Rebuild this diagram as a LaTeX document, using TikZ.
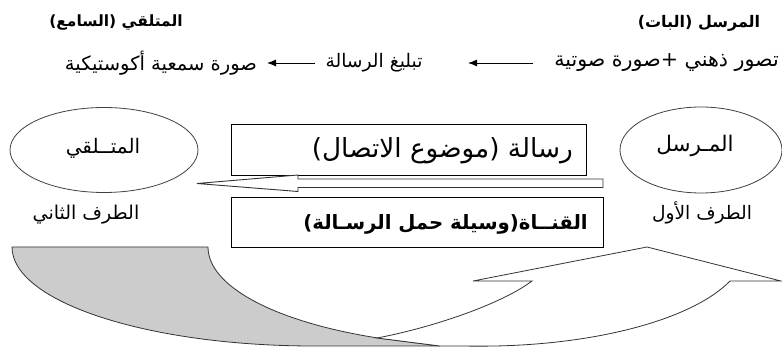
\documentclass[tikz,border=0pt]{standalone}
\usepackage{fontspec}
\usetikzlibrary{arrows.meta,shapes.geometric}
\TeXXeTstate=1
\newfontfamily\arfont[Script=Arabic]{DejaVu Sans}
\newcommand\fsz[1]{\fontsize{#1}{#1}\selectfont}
\begin{document}
\begin{tikzpicture}[x=1pt,y=-1pt,
  lbl/.style={inner sep=0pt, font=\arfont\fsz{19}},
  hd/.style={inner sep=0pt, font=\arfont\bfseries\fsz{15.5}},
  ell/.style={draw=black!75, ellipse, line width=0.8pt, inner sep=0pt},
  boxx/.style={draw=black, line width=1.2pt, anchor=north west, inner sep=0pt},
  arr/.style={-{Latex[length=9pt,width=7pt]}, line width=0.9pt},
  outl/.style={draw=black!80, line width=0.8pt}]
\useasboundingbox (0,0) rectangle (782,347);
\clip (0,0) rectangle (782,347);

% headings
\node[hd, font=\arfont\bfseries\fsz{16}] (hR) at (699,23) {\beginR المرسل (البات)\endR};
\node[hd] (hL) at (116,23) {\beginR المتلقي (السامع)\endR};

% second line
\node[lbl, anchor=east, font=\arfont\fsz{20.6}] (s1) at (779,63) {\beginR تصور ذهني +صورة صوتية\endR};
\node[lbl, font=\arfont\fsz{18.7}] (s2) at (374,63) {\beginR تبليغ الرسالة\endR};
\node[lbl, font=\arfont\fsz{19.5}] (s3) at (161,63) {\beginR صورة سمعية أكوستيكية\endR};
\coordinate (a1s) at (533,63);
\coordinate (a1e) at (468,63);
\coordinate (a2s) at (315,63);
\coordinate (a2e) at (267,63);
\draw[arr] (a1s) -- (a1e);
\draw[arr] (a2s) -- (a2e);

% ellipses
\node[ell, minimum width=188pt, minimum height=85pt] (rec) at (104,150) {};
\node[ell, minimum width=162pt, minimum height=86pt] (snd) at (701,150) {};
\node[inner sep=0pt, font=\arfont\fsz{20}] (rect) at (103,148) {\beginR المتــلقي\endR};
\node[inner sep=0pt, font=\arfont\fsz{21.5}] (sndt) at (695,146) {\beginR المـرسل\endR};
\node[lbl] (rl) at (86,215) {\beginR الطرف الثاني\endR};
\node[lbl, font=\arfont\fsz{18.6}] (sl) at (702,213) {\beginR الطرف الأول\endR};

% boxes
\node[boxx, minimum width=355pt, minimum height=51pt] (b1) at (231,124) {};
\node[boxx, minimum width=372pt, minimum height=50pt] (b2) at (231,197) {};
\node[inner sep=0pt, anchor=east, font=\arfont\fsz{26.3}] (t1) at (573,151) {\beginR رسالة  (موضوع الاتصال)\endR};
\node[inner sep=0pt, anchor=east, font=\arfont\bfseries\fsz{19.7}] (t2) at (588,224) {\beginR القنــاة(وسيلة حمل الرسـالة)\endR};

% hollow arrow
\draw[outl, line width=0.9pt, fill=white] (603,179) -- (298,179) -- (298,175) -- (197,183.5) -- (298,191.5) -- (298,187.5) -- (603,187.5) -- cycle;

% curved arrows
\draw[outl, fill=black!20] (12,247) -- (208,247)
  arc[start angle=180, end angle=114.6, x radius=290, y radius=100]
  -- (440,346) -- (314,346)
  arc[start angle=90, end angle=180, x radius=302, y radius=99] -- cycle;
\draw[outl, fill=white] (377,338) .. controls (430,328) and (500,305) .. (532,281)
  -- (473,281) -- (647,247) -- (781,281) -- (730,281)
  arc[start angle=20, end angle=90, x radius=265, y radius=99]
  -- (440,346) -- cycle;
\end{tikzpicture}
\end{document}
